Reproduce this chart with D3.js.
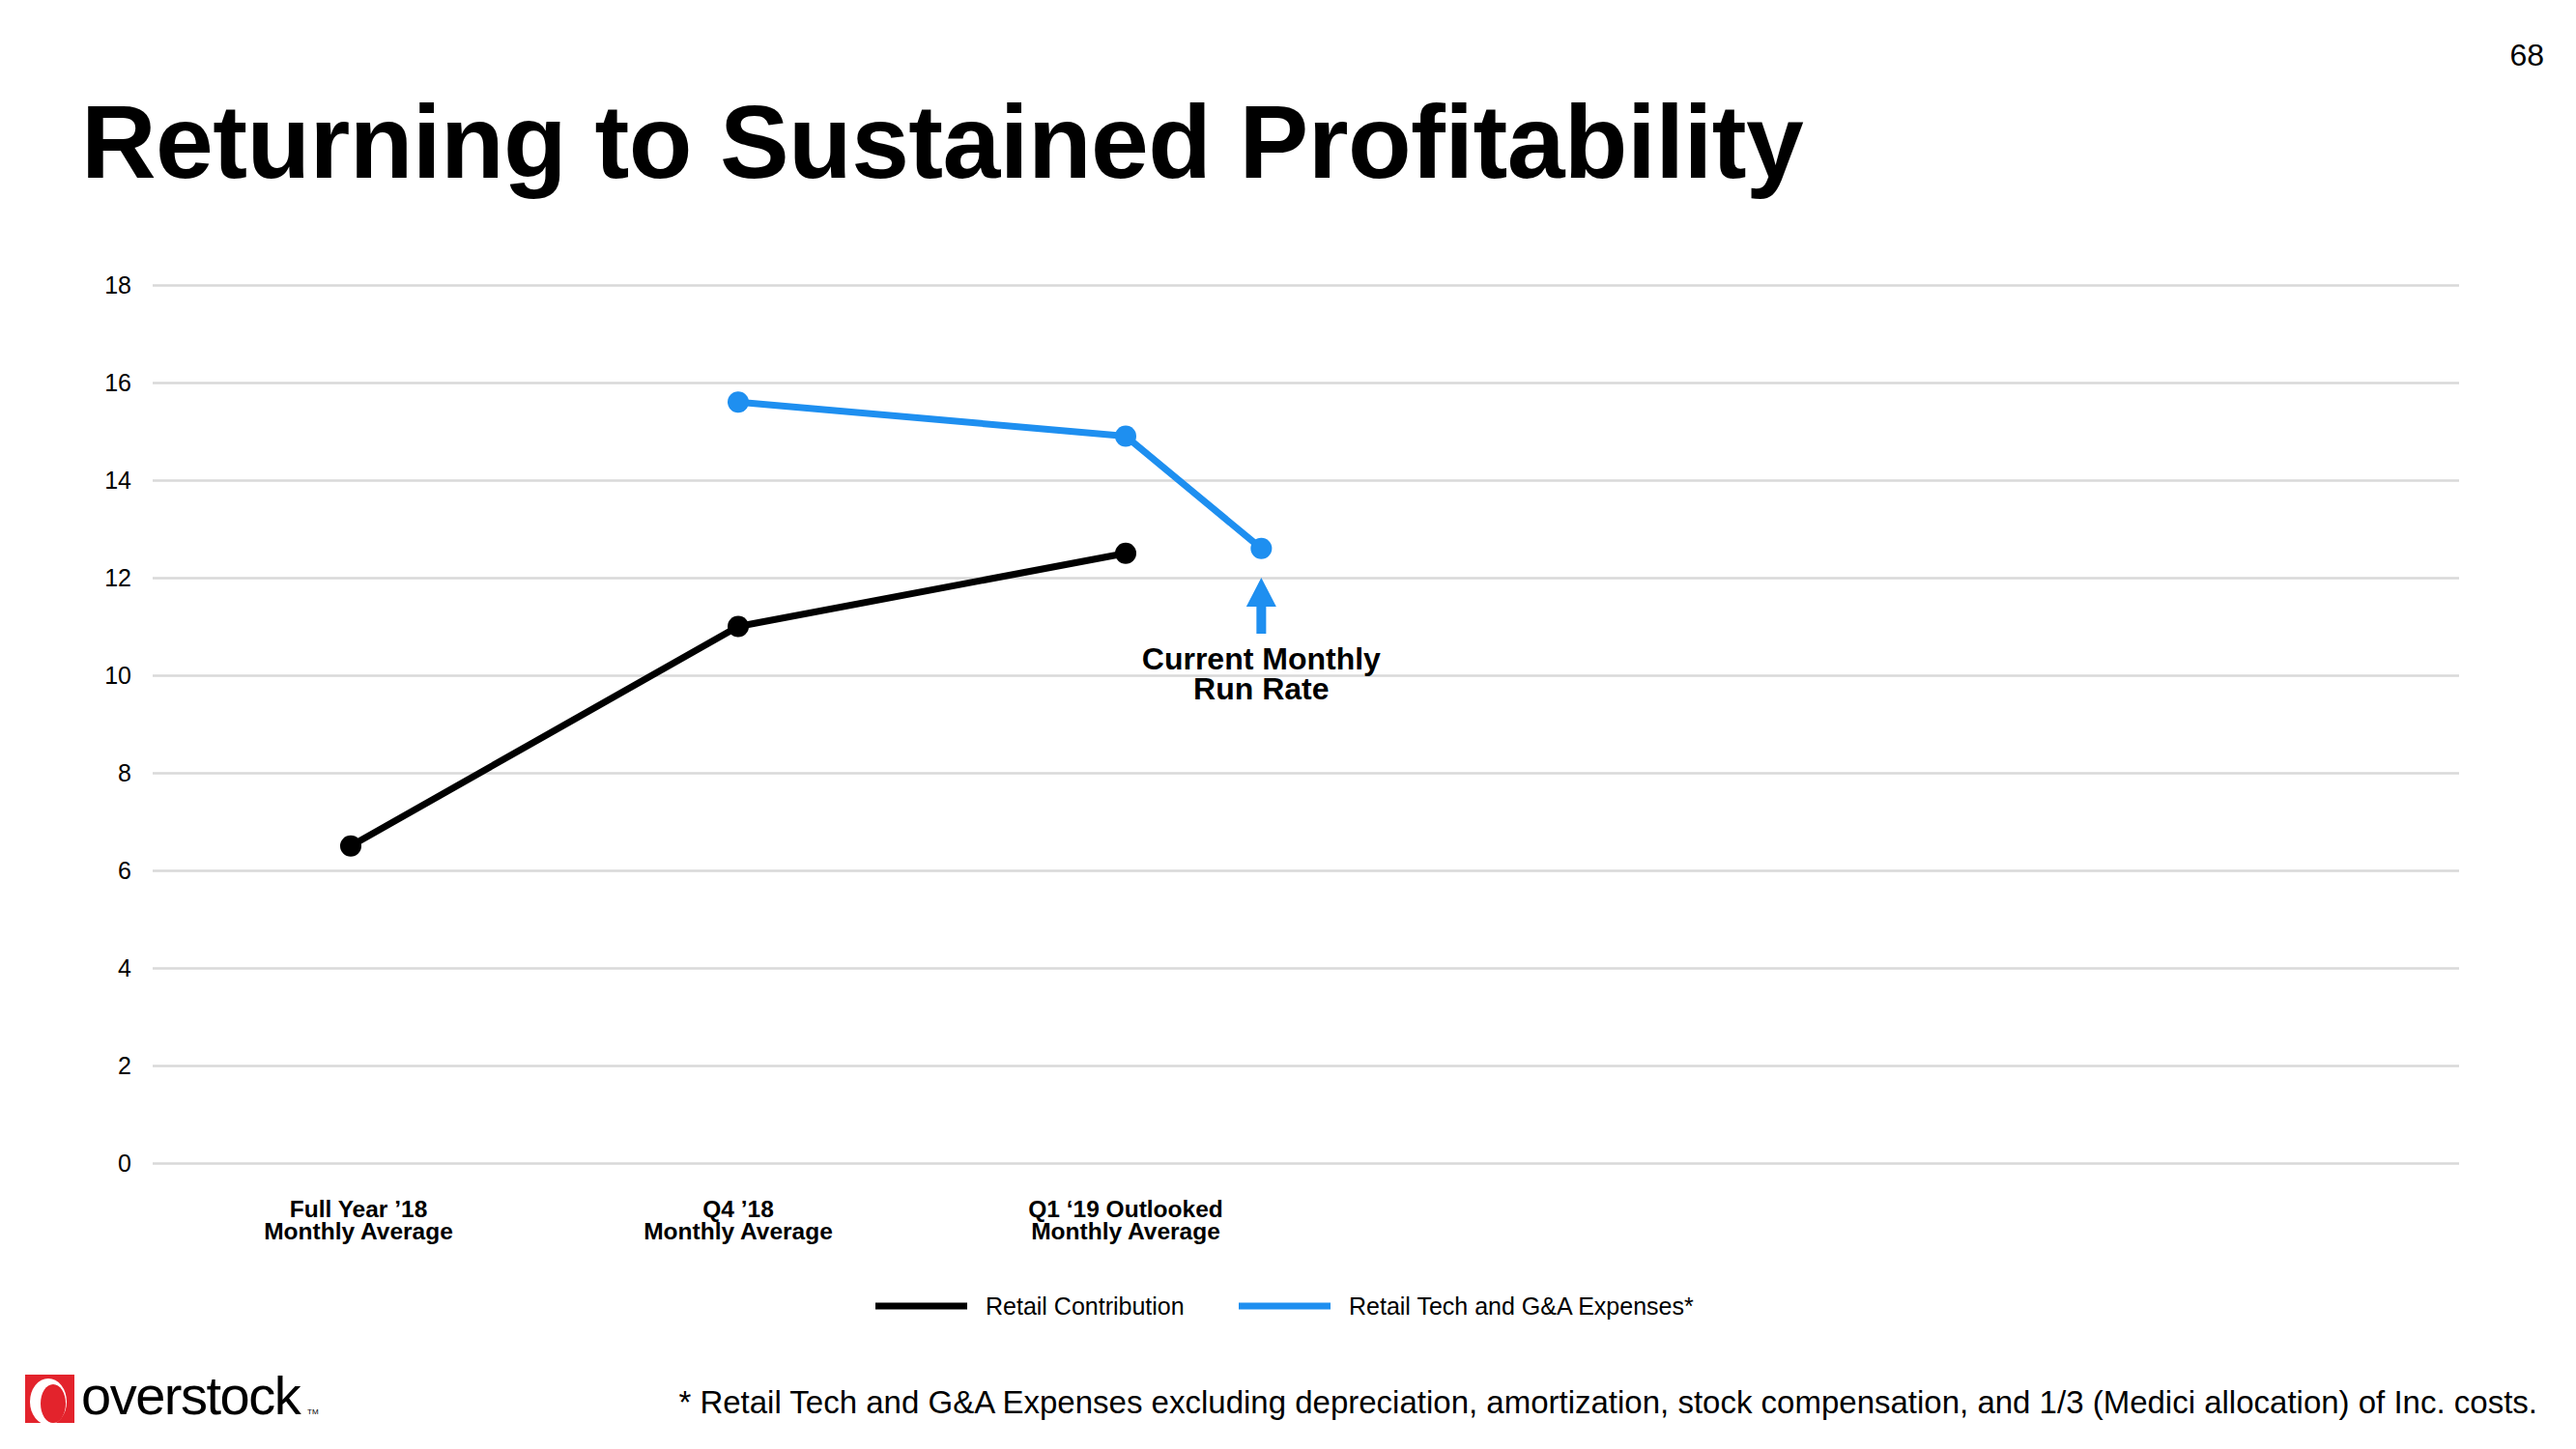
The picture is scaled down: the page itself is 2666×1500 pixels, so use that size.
<!DOCTYPE html>
<html>
<head>
<meta charset="utf-8">
<script src="https://cdn.jsdelivr.net/npm/d3@7"></script>
<style>
  html, body { margin: 0; padding: 0; background: #fff; }
  svg { display: block; font-family: "Liberation Sans", Arial, Helvetica, sans-serif; }
</style>
</head>
<body>
<svg id="chart" width="2666" height="1500"></svg>
<script>
// ---- data ----
const categories = [
  ["Full Year \u201918", "Monthly Average"],
  ["Q4 \u201918", "Monthly Average"],
  ["Q1 \u201819 Outlooked", "Monthly Average"]
];
const yTicks = [0, 2, 4, 6, 8, 10, 12, 14, 16, 18];
const seriesNames = ["Retail Contribution", "Retail Tech and G&A Expenses*"];
const retailContributionX = [0, 1, 2];
const retailContribution = [6.5, 11.0, 12.5];
const retailTechX = [1, 2, 2.35];
const retailTech = [15.6, 14.9, 12.6];
const annotationLines = ["Current Monthly", "Run Rate"];
const annotationX = 2.35;
const annotationArrow = [12.0, 10.85]; // tip, base (value units)
const annotationTextY = 10.12;
const titleText = "Returning to Sustained Profitability";
const pageNumber = "68";
const footnote = "* Retail Tech and G&A Expenses excluding depreciation, amortization, stock compensation, and 1/3 (Medici allocation) of Inc. costs.";

// ---- drawing ----
const svg = d3.select("#chart");
const BLACK = "#000000", BLUE = "#1e8ff0", GRID = "#d9d9d9";

const x = d3.scaleLinear().domain([0, 2]).range([363, 1165]);
const y = d3.scaleLinear().domain([0, 18]).range([1204, 295]);
const gridLeft = 158, gridRight = 2545;

// title
svg.append("text").attr("x", 84).attr("y", 184)
  .attr("font-size", 107.5).attr("font-weight", "bold").attr("letter-spacing", -0.6)
  .attr("fill", "#000").text(titleText);

// page number
svg.append("text").attr("x", 2633).attr("y", 68).attr("text-anchor", "end")
  .attr("font-size", 32).attr("fill", "#000").text(pageNumber);

// grid + y axis
const yAxis = d3.axisLeft(y).tickValues(yTicks).tickSize(-(gridRight - gridLeft)).tickPadding(22);
const gy = svg.append("g").attr("transform", `translate(${gridLeft},0)`).call(yAxis);
gy.select(".domain").remove();
gy.selectAll(".tick line").attr("stroke", GRID).attr("stroke-width", 2.5);
gy.selectAll(".tick text").attr("font-size", 25).attr("fill", "#000")
  .attr("font-family", "Liberation Sans, Arial, sans-serif");

// x category labels
const xl = svg.append("g");
categories.forEach((c, i) => {
  const t = xl.append("text").attr("text-anchor", "middle")
    .attr("font-size", 24.5).attr("font-weight", "bold").attr("fill", "#000");
  c.forEach((line, j) => {
    t.append("tspan").attr("x", x(i) + (i === 0 ? 8 : 0)).attr("y", 1260 + j * 23).text(line);
  });
});

// lines
const line = d3.line().x(d => x(d[0])).y(d => y(d[1]));
const blackPts = retailContributionX.map((v, i) => [v, retailContribution[i]]);
const bluePts = retailTechX.map((v, i) => [v, retailTech[i]]);

svg.append("path").datum(blackPts).attr("d", line)
  .attr("fill", "none").attr("stroke", BLACK).attr("stroke-width", 7).attr("stroke-linejoin", "round");
svg.append("path").datum(bluePts).attr("d", line)
  .attr("fill", "none").attr("stroke", BLUE).attr("stroke-width", 7).attr("stroke-linejoin", "round");

svg.append("g").selectAll("circle").data(blackPts).join("circle")
  .attr("cx", d => x(d[0])).attr("cy", d => y(d[1])).attr("r", 11).attr("fill", BLACK);
svg.append("g").selectAll("circle").data(bluePts).join("circle")
  .attr("cx", d => x(d[0])).attr("cy", d => y(d[1])).attr("r", 11).attr("fill", BLUE);

// annotation arrow
const ax = x(annotationX), tipY = y(annotationArrow[0]), baseY = y(annotationArrow[1]);
const headH = 30, headW = 31, shaftW = 10;
svg.append("path")
  .attr("d", `M${ax},${tipY} L${ax + headW / 2},${tipY + headH} L${ax + shaftW / 2},${tipY + headH}
              L${ax + shaftW / 2},${baseY} L${ax - shaftW / 2},${baseY} L${ax - shaftW / 2},${tipY + headH}
              L${ax - headW / 2},${tipY + headH} Z`)
  .attr("fill", BLUE);
const at = svg.append("text").attr("text-anchor", "middle").attr("font-size", 32)
  .attr("font-weight", "bold").attr("fill", "#000");
annotationLines.forEach((l, i) => {
  at.append("tspan").attr("x", ax).attr("y", y(annotationTextY) + i * 31).text(l);
});

// legend
const legend = svg.append("g");
const legendItems = [
  { name: seriesNames[0], color: BLACK, x0: 906 },
  { name: seriesNames[1], color: BLUE, x0: 1282 }
];
legendItems.forEach(it => {
  legend.append("line").attr("x1", it.x0).attr("x2", it.x0 + 95)
    .attr("y1", 1352).attr("y2", 1352).attr("stroke", it.color).attr("stroke-width", 7);
  legend.append("text").attr("x", it.x0 + 114).attr("y", 1361)
    .attr("font-size", 25).attr("fill", "#000").text(it.name);
});

// footnote
svg.append("text").attr("x", 2626).attr("y", 1463).attr("text-anchor", "end")
  .attr("font-size", 33).attr("fill", "#000").text(footnote);

// logo
const logo = svg.append("g");
logo.append("rect").attr("x", 26).attr("y", 1423).attr("width", 51).attr("height", 50).attr("fill", "#e3232c");
logo.append("ellipse").attr("cx", 50).attr("cy", 1451).attr("rx", 19).attr("ry", 24).attr("fill", "#fff");
logo.append("ellipse").attr("cx", 55).attr("cy", 1453).attr("rx", 13).attr("ry", 20).attr("fill", "#e3232c");
logo.append("text").attr("x", 84).attr("y", 1464).attr("font-size", 56).attr("letter-spacing", -1.5)
  .attr("fill", "#000").text("overstock");
logo.append("text").attr("x", 318).attr("y", 1464).attr("font-size", 8).attr("fill", "#000").text("TM");
</script>
</body>
</html>
